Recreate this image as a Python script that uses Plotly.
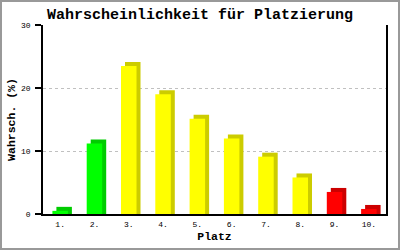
import plotly.graph_objects as go

places = ["1.", "2.", "3.", "4.", "5.", "6.", "7.", "8.", "9.", "10."]
values = [0.5, 11.2, 23.5, 19.0, 15.1, 12.0, 9.1, 5.8, 3.5, 0.8]
front_colors = ["#00ff00", "#00ff00", "#ffff00", "#ffff00", "#ffff00",
                "#ffff00", "#ffff00", "#ffff00", "#ff0000", "#ff0000"]
side_colors = ["#00cc00", "#00cc00", "#cccc00", "#cccc00", "#cccc00",
               "#cccc00", "#cccc00", "#cccc00", "#cc0000", "#cc0000"]
y_ticks = [0, 10, 20, 30]

W, H = 400, 250
ML, MR, MT, MB = 43, 14, 25, 36
PW, PH = W - ML - MR, H - MT - MB
cat_px = PW / len(places)
unit_px = PH / 30.0
depth_x = 4 / cat_px
depth_y = 4 / unit_px
bw = 15.5 / cat_px

FONT = "Liberation Mono"

fig = go.Figure()
# shaded depth (back) bars
fig.add_trace(go.Bar(
    x=places, y=[v + depth_y for v in values],
    width=bw, offset=-bw / 2 + depth_x,
    marker=dict(color=side_colors, line=dict(width=0)),
    hoverinfo="skip", showlegend=False))
# front faces
fig.add_trace(go.Bar(
    x=places, y=values,
    width=bw, offset=-bw / 2,
    marker=dict(color=front_colors, line=dict(width=0)),
    showlegend=False))

fig.update_layout(
    width=W, height=H,
    margin=dict(l=ML, r=MR, t=MT, b=MB, pad=0, autoexpand=False),
    paper_bgcolor="white", plot_bgcolor="white",
    barmode="overlay",
    title=dict(text="<b>Wahrscheinlichkeit für Platzierung</b>",
               font=dict(family=FONT, size=15, color="black"),
               x=0.5, xanchor="center", xref="container",
               y=1 - 14 / H, yanchor="middle", yref="container"),
    xaxis=dict(
        type="category", range=[-0.5, 9.5], automargin=False,
        showgrid=False, showline=True, linecolor="black", linewidth=2,
        ticks="", tickfont=dict(family=FONT, size=8, color="black"),
        ticklabelstandoff=1,
        title=dict(text="<b>Platz</b>", font=dict(family=FONT, size=11.5, color="black"),
                   standoff=4),
        fixedrange=True),
    yaxis=dict(
        range=[0, 30], tickvals=y_ticks, ticktext=[str(t) for t in y_ticks],
        automargin=False,
        showgrid=True, gridcolor="#c0c0c0", griddash="3px,3px", gridwidth=1,
        showline=True, linecolor="black", linewidth=1.5, mirror=True,
        ticks="outside", ticklen=6, tickcolor="black", tickwidth=1.5,
        tickfont=dict(family=FONT, size=8, color="black"),
        ticklabelstandoff=3,
        zeroline=False,
        title=dict(text="<b>Wahrsch. (%)</b>", font=dict(family=FONT, size=11.5, color="black"),
                   standoff=3),
        fixedrange=True),
)

# grey frame around the whole image
fig.add_shape(type="rect", xref="paper", yref="paper",
              x0=-(ML - 1) / PW, x1=1 + (MR - 1) / PW,
              y0=-(MB - 1) / PH, y1=1 + (MT - 1) / PH,
              line=dict(color="#999999", width=2), fillcolor="rgba(0,0,0,0)",
              layer="above")

fig.write_html("out.html")
